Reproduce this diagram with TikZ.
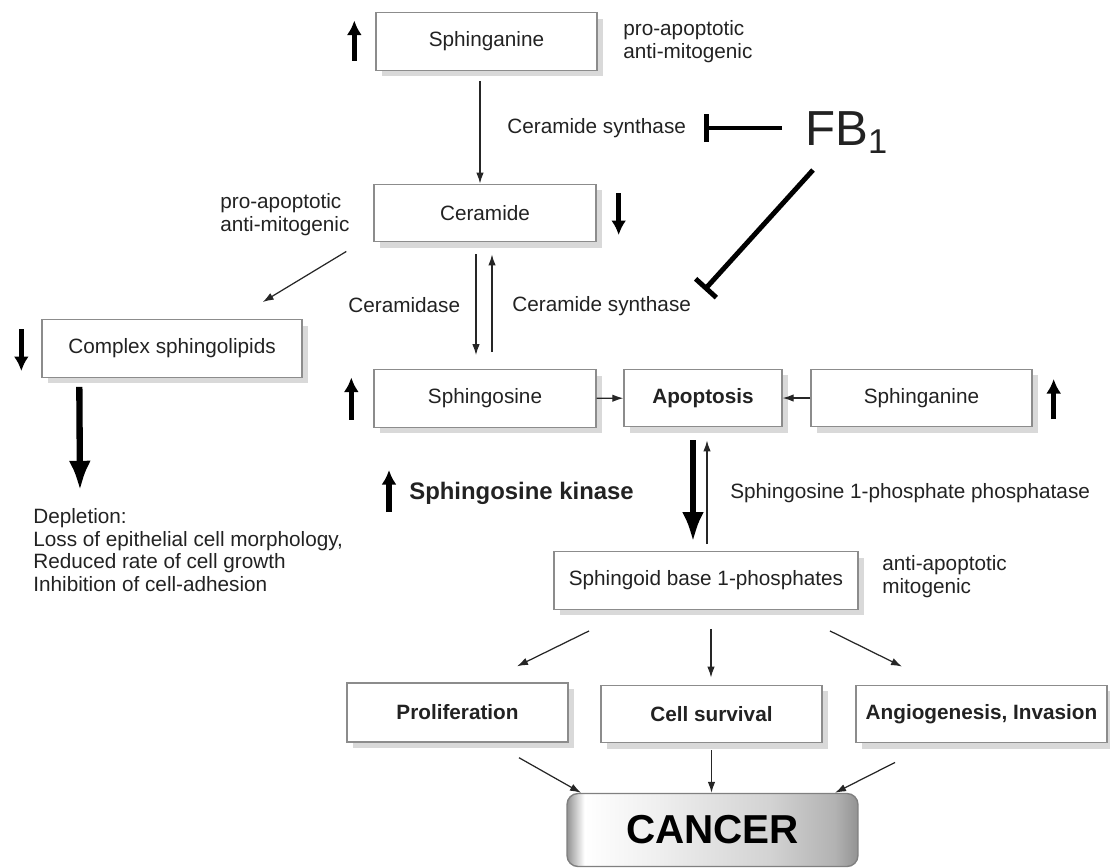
\documentclass[tikz,border=0pt]{standalone}
\usepackage{fontspec}
\setmainfont{Liberation Sans}
\usetikzlibrary{arrows.meta,positioning,calc,shadows}
\definecolor{boxgray}{HTML}{8C8C8C}
\definecolor{shadowgray}{HTML}{D9D9D9}
\definecolor{txtgray}{HTML}{222222}
\pgfdeclarehorizontalshading{cancershade}{100bp}{color(0bp)=(gray!80); color(25bp)=(gray!85); color(28bp)=(white); color(40bp)=(gray!12); color(60bp)=(gray!35); color(71bp)=(gray!60); color(75bp)=(gray!85); color(100bp)=(gray!85)}

\begin{document}
\begin{tikzpicture}[x=0.02cm,y=-0.02cm,
	box/.style={draw=boxgray, line width=0.8pt, fill=white, inner sep=0pt, minimum height=1.15cm, text=txtgray, font=\fontsize{11.8}{13}\selectfont, drop shadow={shadow xshift=0.12cm, shadow yshift=-0.12cm, fill=shadowgray, opacity=1}},
	lbl/.style={inner sep=0pt, align=left, text=txtgray, font=\fontsize{11.8}{13}\selectfont},
	cancerbox/.style={draw=gray, line width=0.8pt, rounded corners=0.22cm, shade, shading=cancershade, inner sep=0pt, font=\fontsize{23}{26}\selectfont\bfseries},
	conn/.style={line width=0.7pt, draw=black!85, -{Latex[length=2.2mm,width=1.5mm]}},
	bigarrow/.style={line width=3.6pt, -{Latex[length=6mm,width=4.4mm]}},
	updown/.style={line width=3pt, -{Latex[length=2.9mm,width=3mm]}},
	inhib/.style={line width=2.8pt, -{Bar[width=5.6mm]}}]

		\useasboundingbox (0,0) rectangle (1110,867);

		\node[box, minimum width=4.42cm] (sphtop) at (486.5,41.5) {Sphinganine};
		\node[box, minimum width=4.44cm] (cer) at (485,213) {Ceramide};
		\node[box, minimum width=5.2cm] (cplx) at (172,348.5) {Complex sphingolipids};
		\node[box, minimum width=4.44cm] (sphos) at (485,398.5) {Sphingosine};
		\node[box, minimum width=3.16cm] (apop) at (703,398) {\textbf{Apoptosis}};
		\node[box, minimum width=4.42cm] (sphan) at (921.5,398) {Sphinganine};
		\node[box, minimum width=6.08cm] (s1p) at (706,580.5) {Sphingoid base 1-phosphates};
		\node[box, minimum width=4.42cm, minimum height=1.18cm] (prol) at (457.5,712.5) {\textbf{Proliferation}};
		\node[box, minimum width=4.42cm] (surv) at (711.5,714) {\textbf{Cell survival}};
		\node[box, minimum width=5.02cm] (angio) at (981.5,714) {\textbf{Angiogenesis, Invasion}};
		\node[cancerbox, minimum width=5.82cm, minimum height=1.46cm] (cancer) at (712.5,830) {CANCER};

		\node[lbl, anchor=west] (pa1) at (623,42) {pro-apoptotic\\anti-mitogenic};
		\node[lbl, anchor=west] (pa2) at (220,215) {pro-apoptotic\\anti-mitogenic};
		\node[lbl, anchor=west] (aa) at (882,577) {anti-apoptotic\\mitogenic};
		\node[lbl, anchor=west] (cs1) at (507,128) {Ceramide synthase};
		\node[lbl, anchor=west] (cdase) at (348,305) {Ceramidase};
		\node[lbl, anchor=west] (cs2) at (512,306) {Ceramide synthase};
		\node[lbl, anchor=west, font=\fontsize{13.6}{16}\selectfont\bfseries] (sk) at (409,493) {Sphingosine kinase};
		\node[lbl, anchor=west] (spp) at (730,493) {Sphingosine 1-phosphate phosphatase};
		\node[lbl, anchor=west] (depl) at (33,550) {Depletion:\\Loss of epithelial cell morphology,\\Reduced rate of cell growth\\Inhibition of cell-adhesion};
		\node[lbl, anchor=base west, font=\fontsize{28}{32}\selectfont] (fb) at (805,145) {FB\textsubscript{1}};

		\draw[conn] ($(sphtop.south)+(-6.5,10)$) -- ($(cer.north)+(-5,0)$);
		\draw[conn] ($(cer.south west)+(-27,9)$) -- ($(cplx.north east)+(-40,-17)$);
		\draw[conn] ($(cer.south)+(-9,12)$) -- ($(sphos.north)+(-9,-14)$);
		\draw[conn] ($(sphos.north)+(7,-17)$) -- ($(cer.south)+(7,12)$);
		\draw[conn] (sphos) -- (apop);
		\draw[conn] (sphan) -- (apop);
		\draw[bigarrow] ($(apop.south)+(-10,13)$) -- ($(s1p.north)+(-13,-9)$);
		\draw[conn] ($(s1p.north)+(1,-7)$) -- ($(apop.south)+(4,13)$);
		\draw[conn] ($(s1p.south)+(-117,21)$) -- ($(prol.north)+(59.5,-16)$);
		\draw[conn] ($(s1p.south)+(5,19)$) -- ($(surv.north)+(-0.5,-7)$);
		\draw[conn] ($(s1p.south)+(124,21)$) -- ($(angio.north)+(-79.5,-18)$);
		\draw[conn] ($(prol.south)+(61.5,15)$) -- ($(cancer.north)+(-131.5,0)$);
		\draw[conn] ($(surv.south)+(0,7)$) -- ($(cancer.north)+(-1,0)$);
		\draw[conn] ($(angio.south)+(-86.5,19)$) -- ($(cancer.north)+(122.5,0)$);
		\draw[bigarrow] ($(cplx.south west)+(38,9)$) -- ($(depl.north west)+(47,-17)$);

		\draw[inhib] ($(fb.base west)+(-23,-17)$) -- ($(cs1.east)+(18,0)$);
		\draw[inhib] ($(fb.base west)+(8,25)$) -- ($(cs2.east)+(13,-16)$);

		\draw[updown] ($(sphtop.west)+(-21,19)$) -- ++(0,-40);
		\draw[updown] ($(cer.east)+(22,-20)$) -- ++(0,42);
		\draw[updown] ($(cplx.west)+(-20,-19.5)$) -- ++(0,42);
		\draw[updown] ($(sphos.west)+(-22,21)$) -- ++(0,-42);
		\draw[updown] ($(sphan.east)+(21,21)$) -- ++(0,-40);
		\draw[updown] ($(sk.west)+(-20,19)$) -- ++(0,-42);
		\end{tikzpicture}
\end{document}
